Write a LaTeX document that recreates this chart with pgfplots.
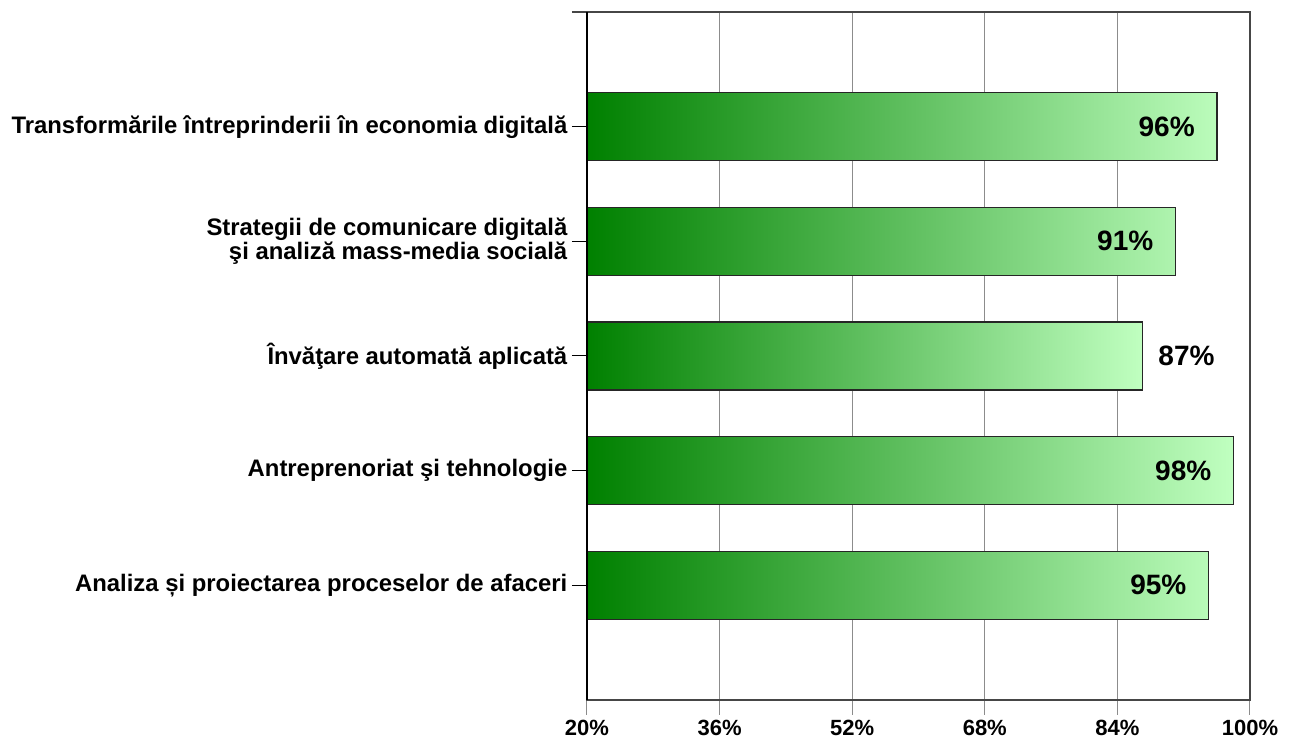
\documentclass[border=0pt]{standalone}
\usepackage{fontspec}
\setmainfont{Liberation Sans}
\usepackage{pgfplots}
\usepackage{pgfplotstable}
\pgfplotsset{compat=1.18}

\definecolor{bardark}{RGB}{0,128,0}
\definecolor{barlight}{RGB}{192,255,192}
\definecolor{framegray}{RGB}{70,70,70}
\definecolor{gridgray}{RGB}{140,140,140}

% pos: slot from the bottom, val: percent
% bars whose label sits inside the bar
\pgfplotstableread{
pos val
5 96
4 91
2 98
1 95
}\ratein
% bar whose label sits right of it
\pgfplotstableread{
pos val
3 87
}\rateout

\tikzset{ratelabel/.style={black, font=\bfseries\fontsize{21}{22}\selectfont}}
\pgfplotsset{
    ratebar/.style={
        xbar, bar width=51pt, bar shift=0pt,
        draw=black!85, line width=1.1pt,
        left color=bardark, right color=barlight,
        point meta=explicit,
        nodes near coords={\pgfmathprintnumber{\pgfplotspointmeta}\%},
    },
}

\begin{document}
\begin{tikzpicture}
\begin{axis}[
    scale only axis,
    width=497.25pt, height=516pt,
    xmin=0, xmax=80,
    ymin=0, ymax=6,
    xtick={0,16,32,48,64,80},
    xticklabels={20\%,36\%,52\%,68\%,84\%,100\%},
    ytick={1,2,3,4,5},
    yticklabels={Analiza și proiectarea proceselor de afaceri,Antreprenoriat şi tehnologie,Învăţare automată aplicată,{Strategii de comunicare digitală\\şi analiză mass-media socială},Transformările întreprinderii în economia digitală},
    yticklabel style={align=right, font=\bfseries\fontsize{17.9}{18}\selectfont},
    xticklabel style={font=\bfseries\fontsize{16.5}{19}\selectfont},
    extra y ticks={6},
    extra y tick labels={},
    extra y tick style={ytick style={framegray, line width=1.5pt}},
    xtick pos=bottom,
    ytick pos=left,
    xmajorgrids=true,
    grid style={gridgray, line width=0.75pt},
    tick align=outside,
    major tick length=11.25pt,
    xtick style={gridgray, line width=0.75pt},
    ytick style={black, line width=0.75pt},
    axis line style={framegray, line width=1.5pt},
    /pgf/number format/assume math mode=true,
]
\addplot[ratebar,
    every node near coord/.append style={ratelabel, anchor=east, xshift=-12.75pt},
] table[x expr=\thisrow{val}-20, y=pos, meta=val] {\ratein};
\addplot[ratebar,
    every node near coord/.append style={ratelabel, anchor=west, xshift=8.25pt},
] table[x expr=\thisrow{val}-20, y=pos, meta=val] {\rateout};
\end{axis}
\draw[black, line width=1.5pt] (current axis.south west) -- (current axis.north west);
\pgfresetboundingbox
\path ([xshift=-440.25pt, yshift=-31.5pt]current axis.south west) rectangle ([xshift=35.25pt, yshift=9pt]current axis.north east);
\end{tikzpicture}
\end{document}
